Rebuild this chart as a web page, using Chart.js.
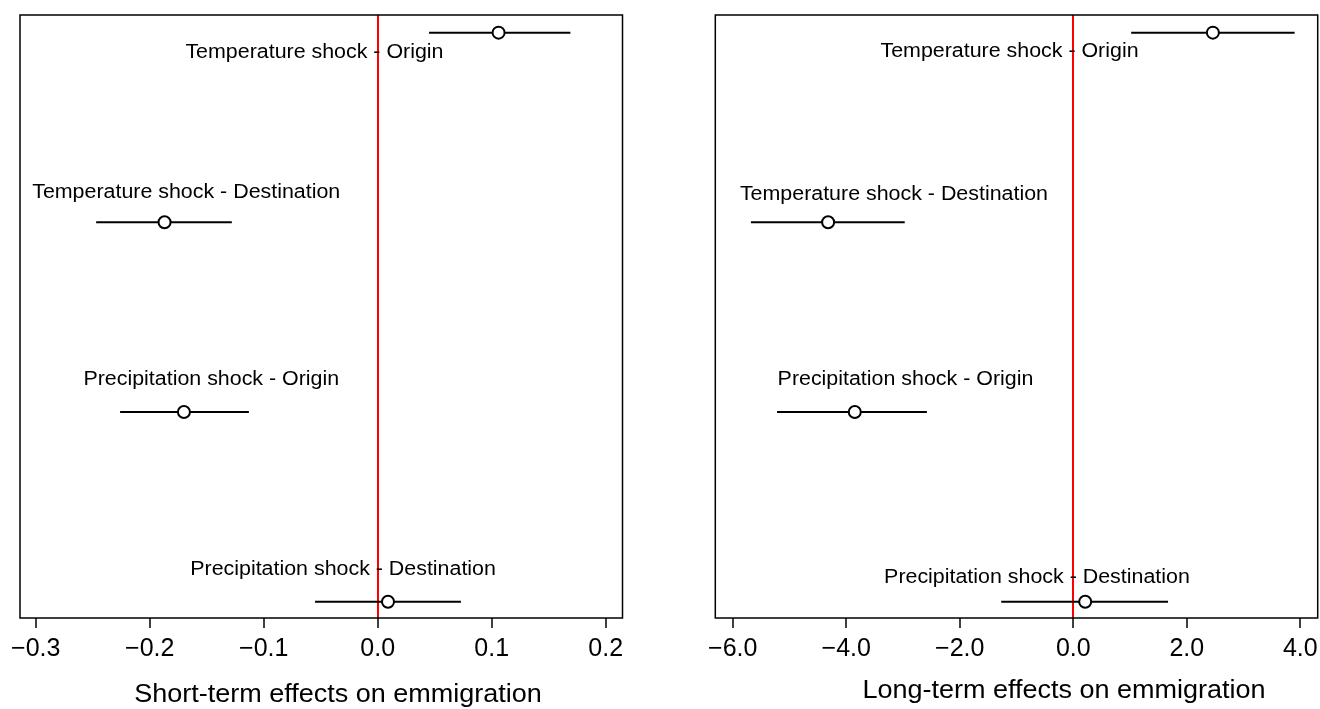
<!DOCTYPE html>
<html>
<head>
<meta charset="utf-8">
<script src="https://cdn.jsdelivr.net/npm/chart.js@4.4.1/dist/chart.umd.min.js"></script>
<style>
  html, body { margin: 0; padding: 0; background: #fff; overflow: hidden; }
  .panel { position: absolute; top: 0; width: 660px; height: 709px; }
</style>
</head>
<body>
<div class="panel" style="left:0"><canvas id="shortChart"></canvas></div>
<div class="panel" style="left:660px; width:670px"><canvas id="longChart"></canvas></div>
<script>
// rows from top to bottom
const shocks = [
  'Temperature shock - Origin',
  'Temperature shock - Destination',
  'Precipitation shock - Origin',
  'Precipitation shock - Destination'
];
const rowPos = [4, 3, 2, 1];

// short-term coefficients with confidence bounds
const shortEst = [0.106, -0.187, -0.170, 0.009];
const shortLow = [0.045, -0.247, -0.226, -0.055];
const shortHigh = [0.169, -0.128, -0.113, 0.073];
const shortTicks = [-0.3, -0.2, -0.1, 0.0, 0.1, 0.2];

// long-term coefficients with confidence bounds
const longEst = [2.46, -4.32, -3.85, 0.21];
const longLow = [1.02, -5.68, -5.22, -1.27];
const longHigh = [3.90, -2.97, -2.58, 1.67];
const longTicks = [-6, -4, -2, 0, 2, 4];

const FONT = '"Liberation Sans", Arial, Helvetica, sans-serif';
Chart.defaults.font.family = FONT;
Chart.defaults.color = '#000';

function fmtTick(v) {
  if (Math.abs(v) < 1e-9) return '0.0';
  return (v < 0 ? '\u2212' : '') + Math.abs(v).toFixed(1);
}

function drawStretched(ctx, text, x, y, size, sx) {
  ctx.save();
  ctx.font = size + 'px ' + FONT;
  ctx.fillStyle = '#000';
  ctx.textAlign = 'center';
  ctx.textBaseline = 'alphabetic';
  ctx.translate(x, y);
  ctx.scale(sx, 1);
  ctx.fillText(text, 0, 0);
  ctx.restore();
}

function makeChart(id, o) {
  const ciSets = rowPos.map((p, i) => ({
    type: 'line',
    data: [{ x: o.low[i], y: p }, { x: o.high[i], y: p }],
    borderColor: '#000',
    borderWidth: 2,
    pointRadius: 0,
    order: 2
  }));

  const pointSet = {
    type: 'scatter',
    data: rowPos.map((p, i) => ({ x: o.est[i], y: p })),
    pointStyle: 'circle',
    pointRadius: 6,
    pointBorderWidth: 2,
    pointBorderColor: '#000',
    pointBackgroundColor: '#fff',
    order: 1
  };

  const decor = {
    id: 'decor',
    afterDraw(chart) {
      const { ctx, chartArea: a, scales } = chart;
      ctx.save();
      ctx.strokeStyle = '#000';
      ctx.lineWidth = 1.5;
      ctx.strokeRect(a.left, a.top, a.right - a.left, a.bottom - a.top);
      ctx.restore();
      rowPos.forEach((p, i) => {
        const px = scales.x.getPixelForValue(o.labelX[i]);
        const py = scales.y.getPixelForValue(p) + o.labelDy[i];
        drawStretched(ctx, shocks[i], px, py, 20, 1.07);
      });
      drawStretched(ctx, o.title, o.titleX, o.titleY, 25, 1.08);
    }
  };

  return new Chart(document.getElementById(id), {
    type: 'scatter',
    data: { datasets: [pointSet, ...ciSets] },
    options: {
      responsive: true,
      maintainAspectRatio: false,
      animation: false,
      layout: { padding: o.padding },
      plugins: { legend: { display: false }, tooltip: { enabled: false } },
      scales: {
        x: {
          type: 'linear',
          min: o.min,
          max: o.max,
          afterBuildTicks: s => { s.ticks = o.ticks.map(v => ({ value: v })); },
          afterFit: s => { s.height = 91; },
          ticks: {
            color: '#000',
            font: { size: 25 },
            padding: 6,
            maxRotation: 0,
            autoSkip: false,
            callback: v => fmtTick(v)
          },
          grid: {
            color: c => (c.tick && Math.abs(c.tick.value) < 1e-9) ? '#ff0000' : 'rgba(0,0,0,0)',
            lineWidth: 2,
            tickColor: '#000',
            tickWidth: 1.5,
            tickLength: 10
          },
          border: { display: false }
        },
        y: { type: 'linear', display: false, min: 0.914, max: 4.093 }
      }
    },
    plugins: [decor]
  });
}

makeChart('shortChart', {
  est: shortEst, low: shortLow, high: shortHigh, ticks: shortTicks,
  min: -0.3138, max: 0.2147,
  labelX: [-0.0555, -0.168, -0.146, -0.0304],
  labelDy: [25, -24.7, -27.5, -26.7],
  title: 'Short-term effects on emmigration', titleX: 338, titleY: 702,
  padding: { left: 20, right: 37.5, top: 15, bottom: 0 }
});

makeChart('longChart', {
  est: longEst, low: longLow, high: longHigh, ticks: longTicks,
  min: -6.308, max: 4.307,
  labelX: [-1.124, -3.16, -2.957, -0.64],
  labelDy: [24, -22.5, -27.5, -18.4],
  title: 'Long-term effects on emmigration', titleX: 404, titleY: 698,
  padding: { left: 55.3, right: 12.3, top: 15, bottom: 0 }
});
</script>
</body>
</html>
